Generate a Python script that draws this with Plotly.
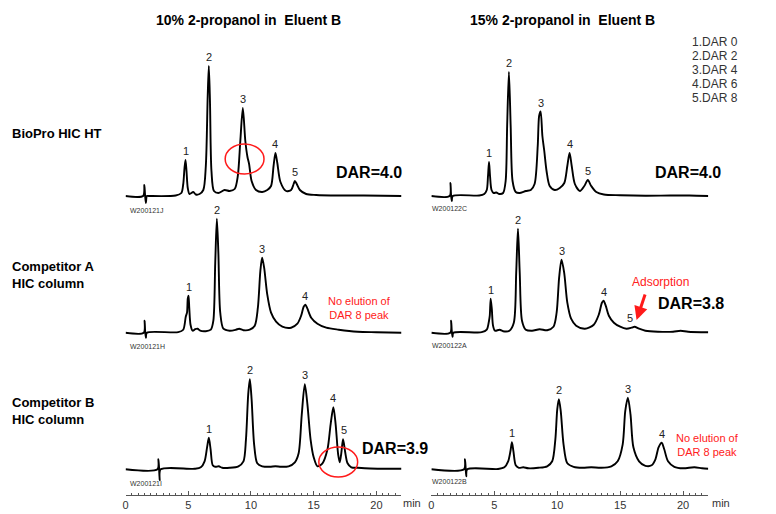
import plotly.graph_objects as go

# chromatograms: time (min) and signal (arbitrary units above baseline)
# 10% 2-propanol, BioPro HIC HT
t_a1 = [0, 1.4, 1.5, 1.55, 1.62, 1.7, 1.85, 4.0, 4.45, 4.6, 4.7, 4.78, 4.86, 4.96, 5.1, 5.4, 5.6, 5.9,
        6.2, 6.4, 6.55, 6.64, 6.73, 6.85, 7.05, 7.4, 7.9, 8.3, 8.7, 8.95, 9.15, 9.35, 9.55, 9.72, 9.85,
        10.05, 10.4, 10.9, 11.3, 11.6, 11.8, 11.95, 12.1, 12.35, 12.8, 13.2, 13.4, 13.5, 13.65, 13.9,
        14.4, 15.2, 17, 19, 22]
s_a1 = [0, 0, 11, 2, -7, 0, 0, 0.5, 3, 12, 28, 36, 25, 8, 2, 4, 1.5, 2,
        6, 30, 100, 130, 95, 25, 5, 3, 6, 5, 7, 20, 55, 88, 55, 39, 32,
        15, 6, 4, 6, 10, 30, 43, 33, 14, 5, 6, 12, 15, 12, 6,
        2, 1, 0.5, 0.5, 0]
# 10% 2-propanol, Competitor A
t_b1 = [0, 1.45, 1.52, 1.56, 1.62, 1.7, 4.2, 4.6, 4.8, 4.9, 4.96, 5.02, 5.08, 5.18, 5.35, 5.55, 5.74,
        5.95, 6.4, 6.8, 7.0, 7.15, 7.28, 7.4, 7.55, 7.8, 8.3, 8.8, 9.06, 9.4, 9.9, 10.3, 10.55, 10.75,
        10.89, 11.05, 11.3, 11.6, 12.0, 12.5, 13.2, 13.7, 14.0, 14.2, 14.34, 14.5, 14.8, 15.3, 16, 17,
        18.5, 20, 22]
s_b1 = [0, 0, 12, 2, -5, 0, 0.5, 3, 16, 20, 34, 37, 25, 8, 2, 3.5, 4,
        2, 1.5, 3, 12, 70, 114, 80, 20, 4, 2, 3, 4, 2.5, 3, 7, 25, 62,
        75, 65, 38, 20, 11, 6, 5, 9, 17, 26, 28, 24, 15, 9, 5, 3,
        1, 0.5, 0]
# 10% 2-propanol, Competitor B
t_c1 = [0, 2.55, 2.62, 2.67, 2.72, 2.8, 5.5, 6.0, 6.3, 6.5, 6.64, 6.78, 6.95, 7.15, 7.43, 7.7, 8.3,
        9.0, 9.4, 9.6, 9.78, 9.91, 10.05, 10.25, 10.5, 10.9, 11.5, 11.95, 12.4, 13.0, 13.5, 13.8, 14.05,
        14.29, 14.5, 14.75, 15.0, 15.3, 15.7, 16.1, 16.35, 16.57, 16.75, 16.95, 17.08, 17.2, 17.34,
        17.5, 17.7, 18.0, 18.5, 19.5, 22]
s_c1 = [0, 0, 10, 2, -11, 0, 0.5, 2, 8, 22, 31.6, 20, 4, 2.5, 3, 1.5, 1.5,
        3, 8, 30, 75, 90, 70, 25, 6, 3, 2.5, 3, 2.5, 3, 7, 16, 55,
        85, 65, 30, 12, 3, 6, 20, 45, 62, 45, 15, 7, 16, 30,
        18, 6, 2, 1.5, 0.8, 0.5]
# 15% 2-propanol, BioPro HIC HT
t_a2 = [0, 1.45, 1.52, 1.56, 1.62, 1.7, 3.8, 4.2, 4.4, 4.5, 4.58, 4.66, 4.78, 4.95, 5.16, 5.4, 5.7,
        5.9, 6.02, 6.16, 6.3, 6.45, 6.7, 7.0, 7.5, 7.9, 8.2, 8.45, 8.56, 8.68, 8.82, 8.97, 9.15, 9.4,
        9.8, 10.2, 10.56, 10.8, 10.98, 11.15, 11.4, 11.8, 12.15, 12.43, 12.7, 13.1, 13.7, 15, 17, 19,
        20.5, 22]
s_a2 = [0, 0, 13, 2, -5, 0, 0.5, 2, 6, 20, 34, 20, 6, 3, 3.5, 2, 3,
        15, 70, 124, 70, 15, 4, 3, 5, 6, 12, 50, 80, 84.5, 60, 45, 25, 10,
        6, 8, 13, 30, 43, 30, 12, 5, 10, 16, 10, 4, 1.5, 0.8, 0.3, 0.5,
        0.5, 0]
# 15% 2-propanol, Competitor A
t_b2 = [0, 1.5, 1.57, 1.62, 1.68, 1.75, 4.0, 4.4, 4.58, 4.64, 4.71, 4.8, 4.9, 5.05, 5.42, 5.7, 6.2,
        6.55, 6.74, 6.88, 7.02, 7.2, 7.5, 8.0, 8.6, 9.2, 9.7, 9.95, 10.15, 10.34, 10.55, 10.8, 11.1,
        11.5, 12.2, 12.9, 13.3, 13.55, 13.68, 13.85, 14.1, 14.5, 15.0, 15.5, 15.9, 16.14, 16.5, 17,
        18.0, 19.2, 19.8, 20.4, 22]
s_b2 = [0, 0, 12, 2, -4, 0, 0.5, 3, 12, 17, 34, 24, 7, 2, 3, 1.5, 2,
        10, 60, 104, 60, 12, 3, 2, 3.5, 2.5, 6, 20, 55, 73, 60, 30, 14,
        7, 4, 8, 18, 30, 32, 27, 17, 10, 6, 4, 5, 6, 4, 2,
        1, 1, 2, 1, 0.5]
# 15% 2-propanol, Competitor B
t_c2 = [0, 2.6, 2.67, 2.72, 2.77, 2.85, 5.3, 5.8, 6.1, 6.28, 6.4, 6.52, 6.7, 6.95, 7.3, 7.7, 8.5,
        9.2, 9.6, 9.85, 10.0, 10.13, 10.28, 10.5, 10.8, 11.3, 12.0, 12.7, 13.5, 14.3, 14.8, 15.2,
        15.4, 15.61, 15.82, 16.05, 16.5, 17.0, 17.5, 17.8, 18.05, 18.3, 18.5, 18.8, 19.3, 20.0, 20.9,
        21.5, 22]
s_c2 = [0, 0, 10, 2, -7, 0, 0.3, 2, 8, 18, 27, 18, 4, 1.5, 2, 1, 1.5,
        3, 8, 30, 60, 70, 58, 25, 6, 2.5, 1.5, 2, 1.5, 3, 8, 25,
        58, 71.6, 55, 22, 8, 3.5, 4, 10, 22, 26.6, 20, 8, 2.5, 1, 2,
        1, 0.5]

# peak number labels (time, apex height)
pk_t_a1 = [4.78, 6.64, 9.35, 11.95, 13.5]
pk_h_a1 = [36, 130, 88, 43, 15]
pk_t_b1 = [5.02, 7.28, 10.89, 14.34]
pk_h_b1 = [37, 114, 75, 28]
pk_t_c1 = [6.64, 9.91, 14.29, 16.57, 17.45]
pk_h_c1 = [31.6, 90, 85, 62, 30]
pk_t_a2 = [4.58, 6.16, 8.68, 10.98, 12.43]
pk_h_a2 = [34, 124, 84.5, 43, 16]
pk_t_b2 = [4.71, 6.88, 10.34, 13.68, 15.75]
pk_h_b2 = [34, 104, 73, 32, 6]
pk_t_c2 = [6.4, 10.13, 15.61, 18.3]
pk_h_c2 = [27, 70, 71.6, 26.6]
peak_names = ['1', '2', '3', '4', '5']

sample_ids = ['W200121J', 'W200121H', 'W200121I', 'W200122C', 'W200122A', 'W200122B']
column_titles = ['10% 2-propanol in  Eluent B', '15% 2-propanol in  Eluent B']
row_titles = ['BioPro HIC HT', 'Competitor A<br>HIC column', 'Competitor B<br>HIC column']
dar_legend = ['1.DAR 0', '2.DAR 2', '3.DAR 4', '4.DAR 6', '5.DAR 8']
x_ticks = [0, 5, 10, 15, 20]

W, H = 776, 514
OFF = 8  # the page body adds an 8px margin, so positions below are page pixels minus that
FONT = 'Arial, Liberation Sans, sans-serif'


def px(x):
    return (x - OFF) / W


def py(y):
    return 1 - (y - OFF) / H


# rows: pixel top, pixel bottom, baseline pixel
rows = [(40, 210, 196), (215, 345, 332.7), (360, 495, 469.3)]
cols = [(123, 400), (430, 708)]

panels = [
    (t_a1, s_a1, pk_t_a1, pk_h_a1), (t_a2, s_a2, pk_t_a2, pk_h_a2),
    (t_b1, s_b1, pk_t_b1, pk_h_b1), (t_b2, s_b2, pk_t_b2, pk_h_b2),
    (t_c1, s_c1, pk_t_c1, pk_h_c1), (t_c2, s_c2, pk_t_c2, pk_h_c2),
]

fig = go.Figure()
layout = {}
annotations = []


def note(x, y, text, size, color='black', xanchor='center'):
    annotations.append(dict(x=px(x), y=py(y), xref='paper', yref='paper', text=text,
                            showarrow=False, xanchor=xanchor, yanchor='middle',
                            align='left' if xanchor == 'left' else 'center',
                            font=dict(family=FONT, size=size, color=color)))


for i, (t, s, pt, ph) in enumerate(panels):
    r, c = divmod(i, 2)
    n = '' if i == 0 else str(i + 1)
    top, bot, base = rows[r]
    fig.add_trace(go.Scatter(x=t, y=s, mode='lines', xaxis='x' + n, yaxis='y' + n,
                             line=dict(color='black', width=1.9, shape='spline', smoothing=0.8),
                             hoverinfo='skip'))
    bottom = r == 2
    layout['xaxis' + n] = dict(
        domain=[px(cols[c][0]), px(cols[c][1])], range=[0, 22], anchor='y' + n,
        visible=bottom, showgrid=False, zeroline=False, showline=True, linecolor='#555',
        linewidth=1, ticks='inside', ticklen=4, tickcolor='#555', tickvals=x_ticks,
        minor=dict(ticks='inside', ticklen=2, dtick=0.5, tickcolor='#555'),
        tickfont=dict(family=FONT, size=11, color='#333'))
    layout['yaxis' + n] = dict(
        domain=[py(bot), py(top)], range=[-(bot - base), base - top], anchor='x' + n,
        visible=False, fixedrange=True)
    for k in range(len(pt)):
        annotations.append(dict(x=pt[k], y=ph[k], xref='x' + n, yref='y' + n,
                                text=peak_names[k], showarrow=False, xanchor='center',
                                yanchor='bottom', yshift=1,
                                font=dict(family=FONT, size=11, color='#222')))

# sample ids
id_pos = [(125, 211), (125, 346), (125, 483), (429, 209), (429, 345), (429, 481)]
for name, (x, y) in zip(sample_ids, id_pos):
    note(x, y, name, 7, '#333', 'left')

for title, x in zip(column_titles, [246, 562]):
    note(x, 20, '<b>%s</b>' % title, 14)

for title, y in zip(row_titles, [133, 275, 411]):
    note(7, y, '<b>%s</b>' % title, 13, 'black', 'left')

for k, line in enumerate(dar_legend):
    note(690, 42 + 13.9 * k, line, 12, '#333', 'left')

# DAR values
for text, x, y in [('DAR=4.0', 367, 173), ('DAR=4.0', 688, 172), ('DAR=3.8', 691, 303),
                   ('DAR=3.9', 393, 448)]:
    note(x, y, '<b>%s</b>' % text, 16)

# red notes
for x, y in [(358, 308), (707, 445)]:
    note(x, y, 'No elution of<br>DAR 8 peak', 11, '#ff2020')
note(660, 282, 'Adsorption', 12, '#ff2020')
annotations.append(dict(x=px(636), y=py(320), xref='paper', yref='paper', text='',
                        showarrow=True, arrowhead=2, arrowsize=0.9, arrowwidth=3,
                        arrowcolor='#ff1a1a', ax=9, ay=-27))

# axis unit labels
for x in [411, 721]:
    note(x, 503, 'min', 11, '#333')

shapes = []
for x0, y0, x1, y1 in [(223, 144, 262, 174), (317, 447, 356, 477)]:
    shapes.append(dict(type='circle', xref='paper', yref='paper', x0=px(x0), x1=px(x1),
                       y0=py(y1), y1=py(y0), line=dict(color='#ff1a1a', width=1.5)))

fig.update_layout(width=W, height=H, margin=dict(l=0, r=0, t=0, b=0),
                  paper_bgcolor='white', plot_bgcolor='white', showlegend=False,
                  annotations=annotations, shapes=shapes, **layout)
fig.write_html('out.html')
